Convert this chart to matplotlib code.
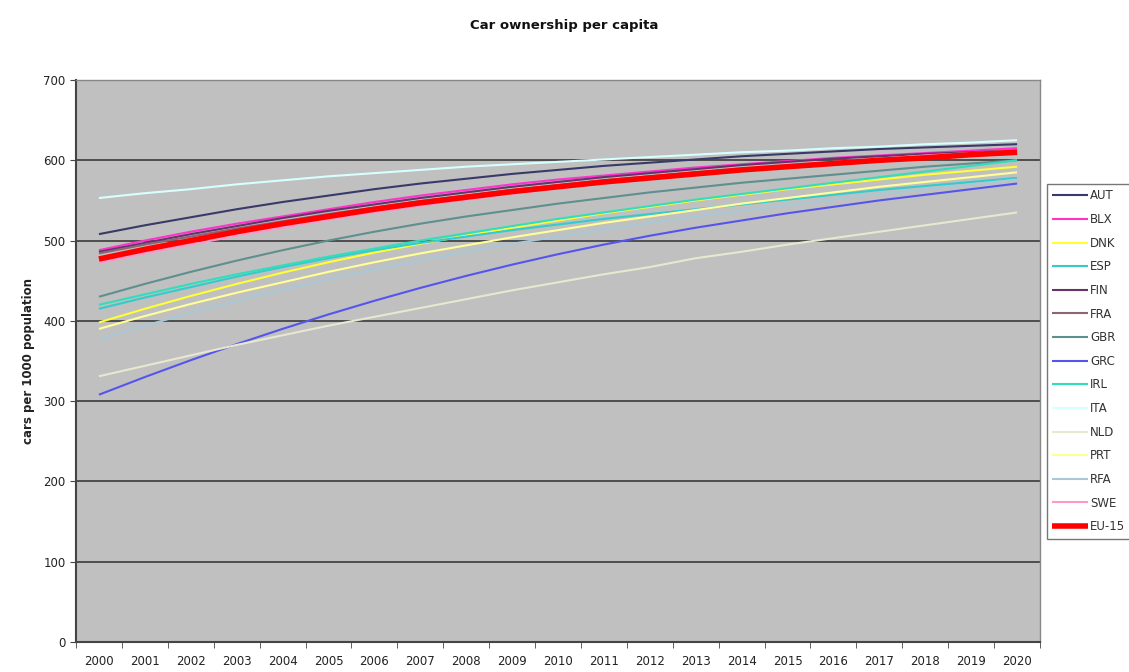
import matplotlib
matplotlib.use("Agg")
import matplotlib.pyplot as plt
from matplotlib.ticker import FixedLocator, NullFormatter

years = [str(y) for y in range(2000, 2021)]

AUT = [508, 519, 529, 539, 548, 556, 564, 571, 577, 583, 588, 593, 597, 601, 605, 608, 611, 614, 616, 618, 620]
BLX = [488, 500, 511, 521, 530, 539, 548, 556, 563, 570, 576, 581, 586, 591, 595, 599, 603, 606, 609, 612, 615]
DNK = [398, 415, 431, 446, 460, 473, 485, 496, 506, 516, 525, 534, 542, 550, 557, 564, 570, 576, 582, 587, 592]
ESP = [415, 429, 442, 455, 467, 478, 488, 497, 505, 513, 520, 527, 533, 539, 545, 551, 557, 563, 568, 573, 578]
FIN = [486, 497, 508, 518, 528, 537, 545, 553, 560, 567, 573, 579, 584, 589, 594, 598, 602, 605, 608, 610, 612]
FRA = [484, 495, 505, 515, 524, 533, 541, 549, 556, 563, 569, 575, 580, 585, 589, 593, 597, 600, 603, 606, 608]
GBR = [430, 446, 461, 475, 488, 500, 511, 521, 530, 538, 546, 553, 560, 566, 572, 577, 582, 587, 592, 596, 600]
GRC = [308, 330, 351, 371, 390, 408, 425, 441, 456, 470, 483, 495, 506, 516, 525, 534, 542, 550, 557, 564, 571]
IRL = [420, 433, 446, 458, 469, 480, 490, 500, 509, 518, 527, 535, 543, 551, 558, 565, 572, 579, 586, 593, 600]
ITA = [553, 559, 564, 570, 575, 580, 584, 588, 592, 595, 598, 601, 604, 607, 610, 612, 615, 617, 620, 622, 625]
NLD = [331, 344, 357, 370, 382, 394, 405, 416, 427, 438, 448, 458, 467, 478, 486, 495, 503, 511, 519, 527, 535]
PRT = [390, 406, 421, 435, 448, 461, 473, 484, 494, 504, 513, 522, 530, 538, 546, 553, 560, 567, 573, 579, 585]
RFA = [377, 394, 410, 425, 439, 452, 464, 475, 486, 496, 505, 514, 522, 530, 537, 544, 551, 558, 564, 570, 576]
SWE = [472, 484, 495, 506, 516, 526, 535, 543, 551, 558, 565, 571, 577, 583, 588, 593, 598, 602, 606, 609, 612]
EU15 = [477, 489, 500, 511, 521, 530, 539, 547, 554, 561, 567, 573, 578, 583, 588, 592, 596, 600, 603, 607, 610]

series_names = ["AUT", "BLX", "DNK", "ESP", "FIN", "FRA", "GBR", "GRC", "IRL", "ITA",
                "NLD", "PRT", "RFA", "SWE", "EU-15"]
series_values = [AUT, BLX, DNK, ESP, FIN, FRA, GBR, GRC, IRL, ITA, NLD, PRT, RFA, SWE, EU15]
series_colors = ["#3a3a6a", "#ff33cc", "#ffff33", "#33cccc", "#66336a", "#8a6677",
                 "#5f8f8f", "#5555ee", "#33ddbb", "#d8ffff", "#e8e8d0", "#ffff99",
                 "#a8c8d8", "#ff99cc", "#ff0000"]
series_widths = [1.5] * 14 + [4.0]

fig = plt.figure(figsize=(11.29, 6.72), dpi=100)
fig.patch.set_facecolor("white")
ax = fig.add_axes([0.0673, 0.0446, 0.8539, 0.8364])
ax.set_facecolor("#c0c0c0")

x = list(range(len(years)))
handles = []
for name, vals, col, lw in zip(series_names, series_values, series_colors, series_widths):
    h, = ax.plot(x, vals, color=col, lw=lw, label=name, solid_capstyle="butt")
    handles.append(h)

ax.set_xlim(-0.5, len(years) - 0.5)
ax.set_ylim(0, 700)
ax.set_yticks(range(0, 701, 100))
ax.yaxis.grid(True, color="#444444", lw=1.3)
ax.set_axisbelow(True)

ax.set_xticks(x)
ax.set_xticklabels(years, fontsize=8.5, color="#222222")
ax.tick_params(axis="x", which="major", length=0, pad=9)
ax.xaxis.set_minor_locator(FixedLocator([i - 0.5 for i in range(len(years) + 1)]))
ax.xaxis.set_minor_formatter(NullFormatter())
ax.tick_params(axis="x", which="minor", length=4, color="#444444", direction="out")
ax.tick_params(axis="y", length=4, color="#444444", labelsize=8.5, labelcolor="#222222")

for s in ["left", "bottom"]:
    ax.spines[s].set_color("#444444")
    ax.spines[s].set_linewidth(1.5)
for s in ["top", "right"]:
    ax.spines[s].set_color("#888888")
    ax.spines[s].set_linewidth(1.0)

ax.set_ylabel("cars per 1000 population", fontsize=8.5, fontweight="bold", color="#222222", labelpad=6)
fig.text(0.50, 0.962, "Car ownership per capita", ha="center", va="center",
         fontsize=9.5, fontweight="bold", color="#111111")

leg = fig.legend(handles=handles, labels=series_names, loc="upper left",
                 bbox_to_anchor=(0.9274, 0.726), frameon=True, fontsize=8.5,
                 handlelength=3.0, handletextpad=0.2, labelspacing=0.9,
                 borderpad=0.45, fancybox=False, borderaxespad=0)
leg.get_frame().set_edgecolor("#555555")
leg.get_frame().set_linewidth(1.0)
for t in leg.get_texts():
    t.set_color("#333333")

fig.savefig("out.png", dpi=100, facecolor="white")
